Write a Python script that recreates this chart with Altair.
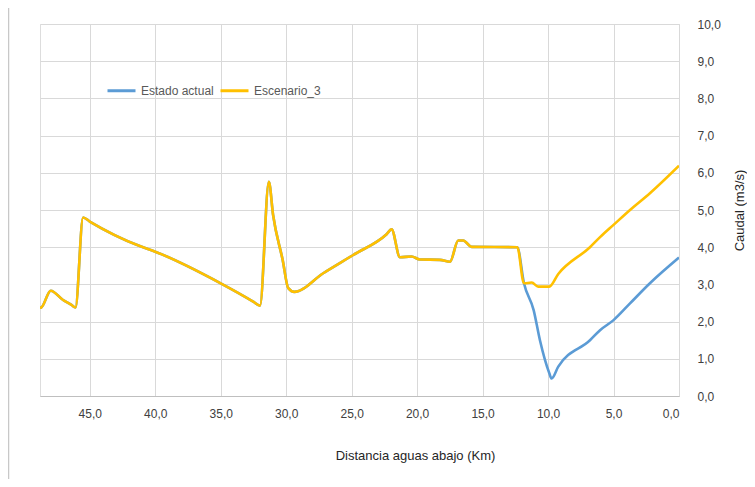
import altair as alt
import pandas as pd

# Distance downstream (km) and flow (m3/s)
dist_esc = [48.8, 48.7, 47.98, 47.04, 46.4, 46.09, 45.51, 45.0, 41.18, 40.0, 35.0,
            32.52, 32.0, 31.32, 31.0, 30.27, 29.84, 29.38, 27.17, 24.88, 22.33, 21.95,
            21.31, 20.42, 19.79, 18.26, 17.49, 16.86, 16.48, 15.84, 12.35, 11.84, 11.25,
            10.75, 9.91, 9.22, 6.8, 6.03, 5.0, 3.74, 2.22, 0.0]
q_esc = [2.37, 2.38, 2.83, 2.58, 2.45, 2.38, 4.80, 4.69, 4.03, 3.88, 3.03,
         2.54, 2.43, 5.76, 4.87, 3.66, 2.90, 2.80, 3.30, 3.79, 4.35, 4.48,
         3.73, 3.75, 3.67, 3.66, 3.61, 4.18, 4.18, 4.01, 4.00, 3.03, 3.05,
         2.94, 2.94, 3.28, 4.00, 4.27, 4.60, 5.00, 5.45, 6.19]

dist_act = [48.8, 48.7, 47.98, 47.04, 46.4, 46.09, 45.51, 45.0, 41.18, 40.0, 35.0,
            32.52, 32.0, 31.32, 31.0, 30.27, 29.84, 29.38, 27.17, 24.88, 22.33, 21.95,
            21.31, 20.42, 19.79, 18.26, 17.49, 16.86, 16.48, 15.84, 12.35, 11.84, 11.1,
            10.62, 9.91, 9.73, 9.22, 6.8, 6.03, 5.0, 3.74, 2.22, 0.0]
q_act = [2.37, 2.38, 2.83, 2.58, 2.45, 2.38, 4.80, 4.69, 4.03, 3.88, 3.03,
         2.54, 2.43, 5.76, 4.87, 3.66, 2.90, 2.80, 3.30, 3.79, 4.35, 4.48,
         3.73, 3.75, 3.67, 3.66, 3.61, 4.18, 4.18, 4.01, 4.00, 3.03, 2.31,
         1.50, 0.62, 0.47, 0.79, 1.50, 1.77, 2.04, 2.49, 3.03, 3.72]

series_names = ["Estado actual", "Escenario_3"]
series_colors = ["#5B9BD5", "#FFC000"]
x_ticks = [45, 40, 35, 30, 25, 20, 15, 10, 5, 0]
y_ticks = [0, 1, 2, 3, 4, 5, 6, 7, 8, 9, 10]

df = pd.concat([
    pd.DataFrame({"dist": dist_act, "q": q_act, "serie": series_names[0], "ord": 0}),
    pd.DataFrame({"dist": dist_esc, "q": q_esc, "serie": series_names[1], "ord": 1}),
])

FONT = "Liberation Sans"
lab_expr = "replace(format(datum.value, '.1f'), '.', ',')"

lines = alt.Chart(df).mark_line(strokeWidth=2.6, interpolate="monotone", clip=True).encode(
    x=alt.X("dist:Q",
            scale=alt.Scale(domain=[0, 48.8], reverse=True, nice=False, zero=False),
            axis=alt.Axis(values=x_ticks, labelExpr=lab_expr, title="Distancia aguas abajo (Km)",
                          grid=True, gridColor="#d9d9d9", ticks=False,
                          domainColor="#bfbfbf", domainWidth=1,
                          labelFont=FONT, labelFontSize=12, labelColor="#404040",
                          labelPadding=12,
                          titleFont=FONT, titleFontSize=13, titleFontWeight="normal",
                          titleColor="#262626", titleX=375, titleY=59,
                          titleBaseline="middle")),
    y=alt.Y("q:Q",
            scale=alt.Scale(domain=[0, 10], nice=False),
            axis=alt.Axis(orient="right", values=y_ticks, labelExpr=lab_expr, title="Caudal (m3/s)",
                          grid=True, gridColor="#d9d9d9", ticks=False, domain=False,
                          labelFont=FONT, labelFontSize=12, labelColor="#404040",
                          labelPadding=18, labelAlign="left",
                          titleFont=FONT, titleFontSize=13, titleFontWeight="normal",
                          titleColor="#262626", titleAngle=270, titleX=60, titleY=186,
                          titleAlign="center", titleBaseline="middle")),
    color=alt.Color("serie:N",
                    scale=alt.Scale(domain=series_names, range=series_colors),
                    legend=alt.Legend(title=None, orient="none", legendX=66, legendY=51,
                                      direction="horizontal", columns=2, symbolType="stroke",
                                      symbolSize=784, symbolStrokeWidth=3, columnPadding=0,
                                      labelFont=FONT, labelFontSize=12, labelColor="#595959",
                                      labelOffset=4)),
    order=alt.Order("ord:Q"),
    detail="serie:N",
)

border = alt.Chart(pd.DataFrame({"a": [0]})).mark_rule(color="#c8c8c8", strokeWidth=1.5, clip=False).encode(
    x=alt.value(-31.5), y=alt.value(-16), y2=alt.value(470)
)

chart = alt.layer(border, lines).properties(
    width=639, height=372,
    autosize=alt.AutoSizeParams(type="none"),
    padding={"left": 32, "top": 16, "right": 68, "bottom": 83},
).configure_view(stroke=None).configure(background="white")

chart.save("out.html", embed_options={"renderer": "svg", "actions": False})
